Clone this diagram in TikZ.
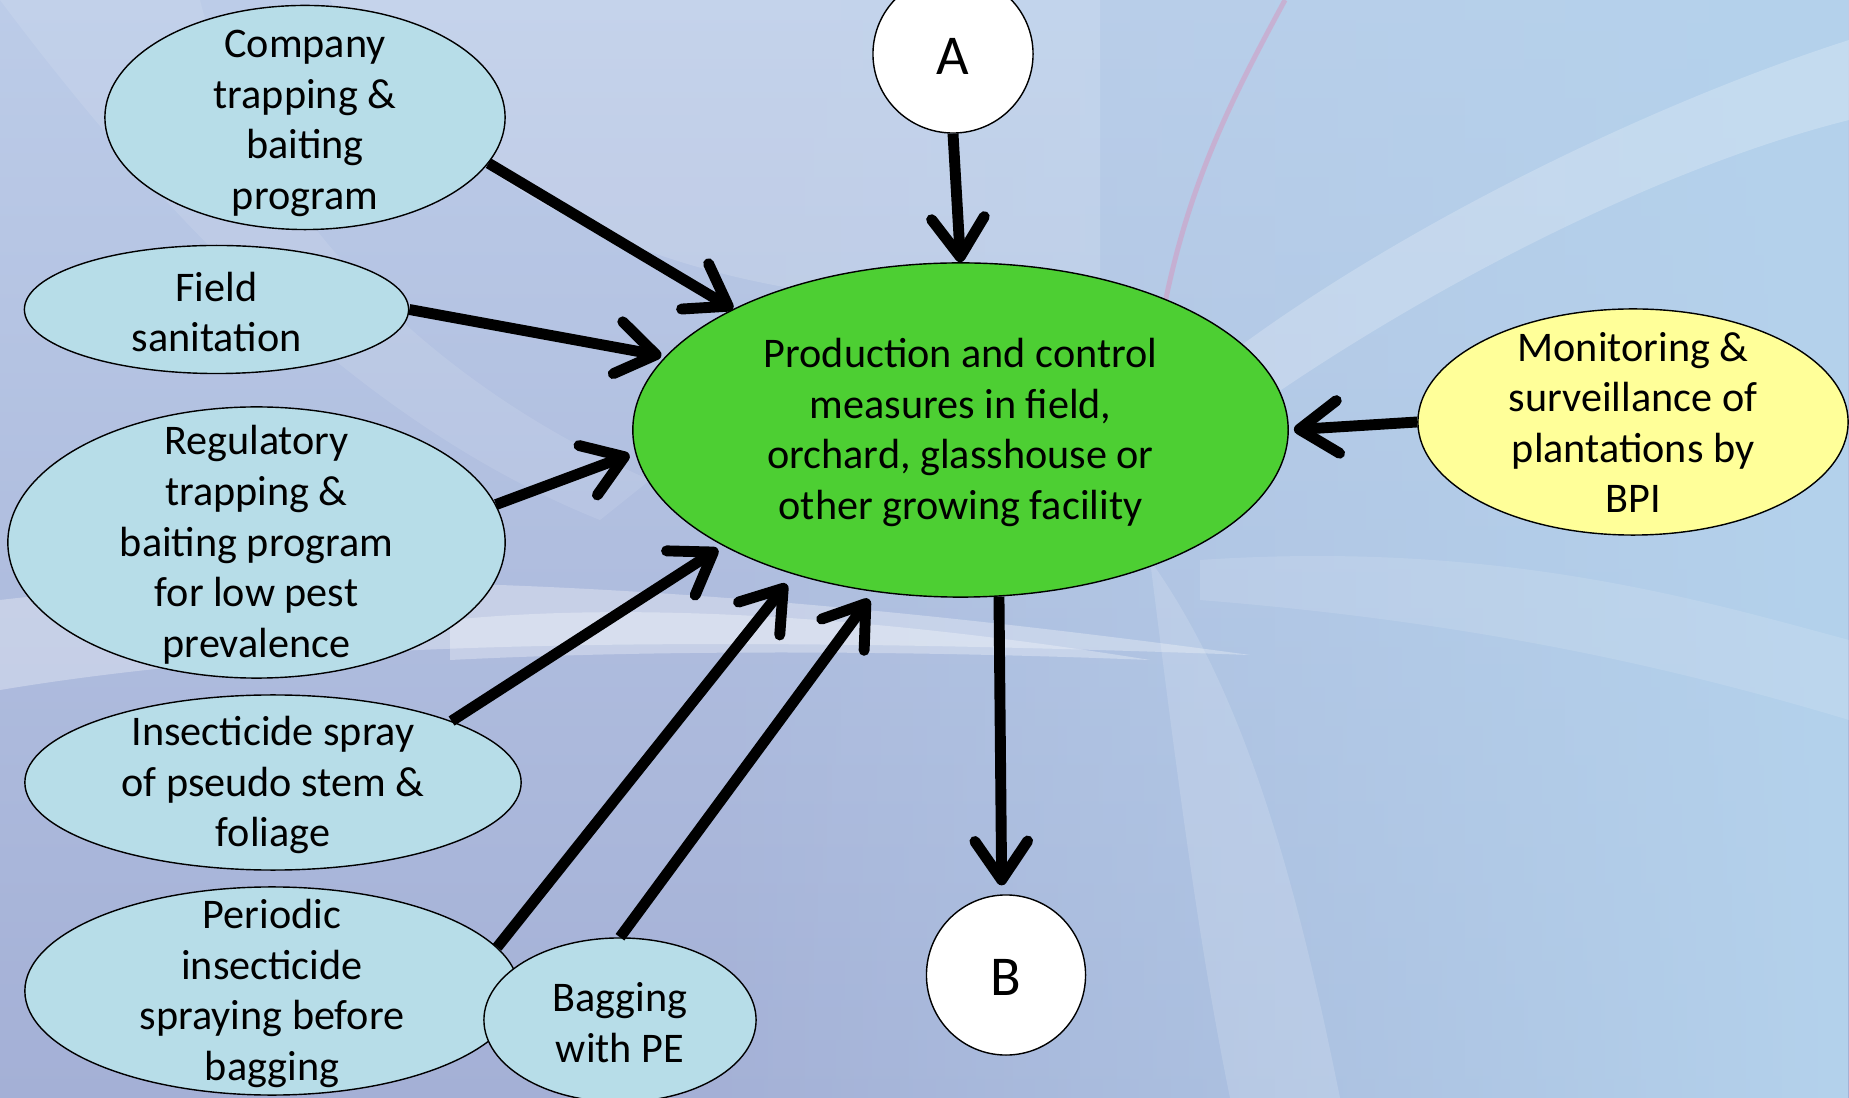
\documentclass[tikz,border=0pt]{standalone}
\usepackage{fontspec}
\setmainfont{Carlito}
\usetikzlibrary{shapes.geometric, arrows.meta, fadings}

\definecolor{bubfill}{HTML}{B7DDE8}
\definecolor{greenfill}{HTML}{4DCF33}
\definecolor{yellowfill}{HTML}{FFFF99}
\definecolor{bgtop}{RGB}{188,204,232}
\definecolor{bgbot}{RGB}{164,176,214}
\definecolor{bgright}{RGB}{180,210,236}
\definecolor{pinkarc}{RGB}{214,150,190}

\tikzfading[name=fadeR, left color=transparent!100, right color=transparent!0]

\begin{document}
\begin{tikzpicture}[x=0.01cm, y=-0.01cm,
  bub/.style={ellipse, draw=black, line width=0.4pt, inner sep=0pt, fill=bubfill},
  every label/.style={align=center, font=\fontsize{12}{14.4}\selectfont, inner sep=0pt, yshift=-0.025cm},
  letterlbl/.style={font=\fontsize{16}{19}\selectfont},
  conn/.style={line width=3.1pt, -{Straight Barb[length=11pt,width=15pt,round]}},
]
\useasboundingbox (0,0) rectangle (1849,1098);
\clip (0,0) rectangle (1849,1098);

% ---------- background ----------
\shade[top color=bgtop, bottom color=bgbot] (0,0) rectangle (1849,1098);
\fill[bgright, path fading=fadeR] (700,0) rectangle (1849,1098);
\fill[white, opacity=0.14] (330,0) .. controls (450,200) and (700,330) .. (1100,300) -- (1100,0) -- cycle;
\fill[white, opacity=0.10] (0,0) .. controls (150,200) and (350,420) .. (600,520) -- (650,480) .. controls (420,380) and (250,200) .. (200,0) -- cycle;
\fill[white, opacity=0.30] (0,600) .. controls (300,565) and (700,580) .. (1250,655) .. controls (700,635) and (300,640) .. (0,690) -- cycle;
\fill[white, opacity=0.30] (450,620) .. controls (650,600) and (900,620) .. (1150,660) .. controls (900,650) and (650,650) .. (450,660) -- cycle;
\fill[white, opacity=0.22] (1849,40) .. controls (1600,120) and (1300,280) .. (1150,420) -- (1210,440) .. controls (1400,300) and (1650,170) .. (1849,120) -- cycle;
\fill[white, opacity=0.15] (1150,560) .. controls (1180,800) and (1200,950) .. (1230,1098) -- (1340,1098) .. controls (1300,900) and (1250,700) .. (1150,560) -- cycle;
\fill[white, opacity=0.12] (1200,560) .. controls (1500,540) and (1700,600) .. (1849,640) -- (1849,720) .. controls (1650,660) and (1450,620) .. (1200,600) -- cycle;
\draw[pinkarc, line width=0.05cm, opacity=0.5] (1285,0) .. controls (1220,120) and (1170,220) .. (1150,400);

% ---------- nodes ----------
\node[bub, minimum width=4cm, minimum height=2.24cm,
  label={[yshift=-0.035cm]center:{Company\\trapping \&\\baiting\\program}}] (comp) at (305,117.5) {};
\node[bub, minimum width=3.84cm, minimum height=1.28cm,
  label={center:{Field\\sanitation}}] (field) at (216.5,309.5) {};
\node[bub, minimum width=4.97cm, minimum height=2.71cm,
  label={center:{Regulatory\\trapping \&\\baiting program\\for low pest\\prevalence}}] (reg) at (256.5,542.5) {};
\node[bub, minimum width=4.96cm, minimum height=1.75cm,
  label={center:{Insecticide spray\\of pseudo stem \&\\foliage}}] (ins) at (273,782.5) {};
\node[bub, minimum width=4.94cm, minimum height=2.08cm,
  label={center:{Periodic\\insecticide\\spraying before\\bagging}}] (per) at (272,991) {};
\node[bub, minimum width=2.72cm, minimum height=1.64cm,
  label={center:{Bagging\\with PE}}] (bag) at (620,1020) {};
\node[bub, fill=greenfill, minimum width=6.55cm, minimum height=3.34cm,
  label={center:{Production and control\\measures in field,\\orchard, glasshouse or\\other growing facility}}] (green) at (960.5,430) {};
\node[bub, fill=white, minimum width=1.6cm, minimum height=1.58cm,
  label={[letterlbl]center:A}] (A) at (953,54) {};
\node[bub, fill=white, minimum width=1.59cm, minimum height=1.6cm,
  label={[letterlbl]center:B}] (B) at (1006,975) {};
\node[bub, fill=yellowfill, minimum width=4.3cm, minimum height=2.26cm,
  label={[yshift=0.02cm]center:{Monitoring \&\\surveillance of\\plantations by\\BPI}}] (yel) at (1633,422) {};

% ---------- connectors ----------
\draw[conn] (comp.-14.4) -- (green.152.8);
\draw[conn, shorten >=0.04cm] (field.0) -- (green.166.1);
\draw[conn, shorten >=0.06cm] (reg.9.3) -- (green.184);
\draw[conn, shorten >=0.06cm] (ins.19.3) -- (green.206.6);
\draw[conn, shorten >=0.12cm] (per.11.9) -- (green.221.7);
\draw[conn, shorten >=0.09cm] (bag.90) -- (green.242.4);
\draw[conn] (A.south) -- (green.90);
\draw[conn, shorten >=0.09cm] (green.283.5) -- (B.93);
\draw[conn, shorten >=0.05cm] (yel.180) -- (green.0);
\end{tikzpicture}
\end{document}
